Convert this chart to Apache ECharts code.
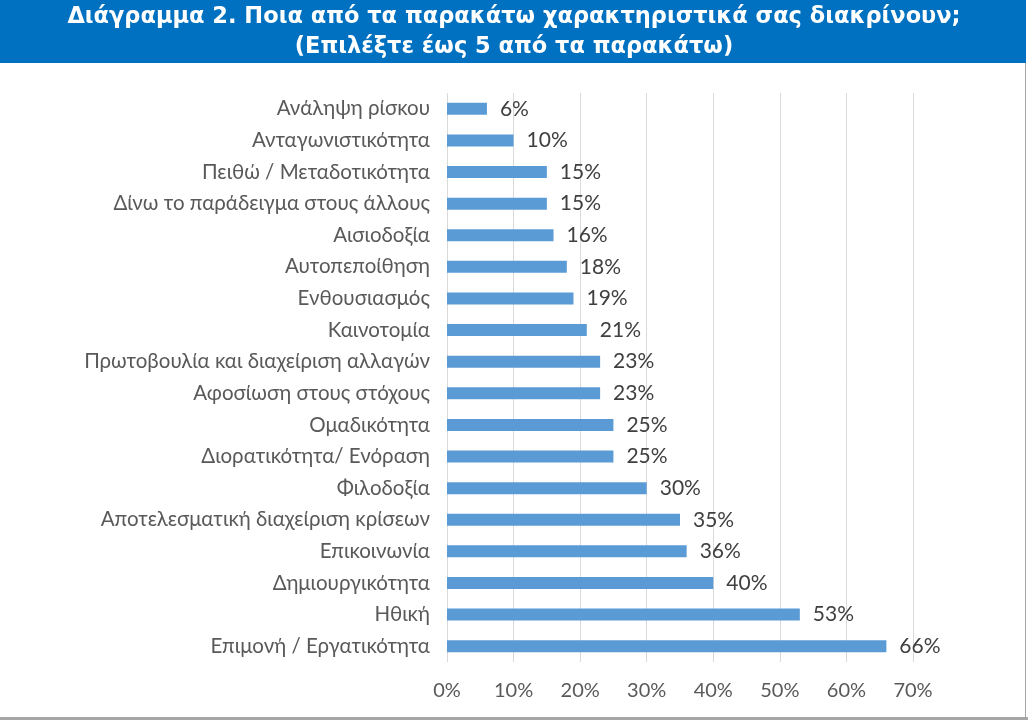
<!DOCTYPE html>
<html lang="el">
<head>
    <meta charset="UTF-8">
    <title>Διάγραμμα 2</title>
    <script src="https://cdn.jsdelivr.net/npm/echarts@6/dist/echarts.min.js"></script>
    <style>
        html, body { margin: 0; padding: 0; background: #fff; }
        #main { width: 1028px; height: 720px; }
    </style>
</head>
<body>
    <div id="main"></div>
    <script type="text/javascript">
        // κατηγορίες από πάνω προς τα κάτω
        var categories = [
            'Ανάληψη ρίσκου',
            'Ανταγωνιστικότητα',
            'Πειθώ / Μεταδοτικότητα',
            'Δίνω το παράδειγμα στους άλλους',
            'Αισιοδοξία',
            'Αυτοπεποίθηση',
            'Ενθουσιασμός',
            'Καινοτομία',
            'Πρωτοβουλία και διαχείριση αλλαγών',
            'Αφοσίωση στους στόχους',
            'Ομαδικότητα',
            'Διορατικότητα/ Ενόραση',
            'Φιλοδοξία',
            'Αποτελεσματική διαχείριση κρίσεων',
            'Επικοινωνία',
            'Δημιουργικότητα',
            'Ηθική',
            'Επιμονή / Εργατικότητα'
        ];
        var values = [6, 10, 15, 15, 16, 18, 19, 21, 23, 23, 25, 25, 30, 35, 36, 40, 53, 66];
        var xTicks = [0, 10, 20, 30, 40, 50, 60, 70];
        var titleLines = [
            'Διάγραμμα 2. Ποια από τα παρακάτω χαρακτηριστικά σας διακρίνουν;',
            '(Επιλέξτε έως 5 από τα παρακάτω)'
        ];

        var myChart = echarts.init(document.getElementById('main'));
        var labelFont = 'Lato, "Open Sans", sans-serif';

        var option = {
            animation: false,
            backgroundColor: '#ffffff',
            title: {
                text: titleLines.join('\n'),
                left: 'center',
                top: 2,
                padding: 0,
                textStyle: {
                    color: '#ffffff',
                    fontFamily: '"DejaVu Sans", sans-serif',
                    fontWeight: 'bold',
                    fontSize: 22.5,
                    lineHeight: 30
                }
            },
            graphic: [
                {
                    type: 'rect', z: -1,
                    shape: { x: 0, y: 0, width: 1026, height: 63 },
                    style: { fill: '#0070C0' }
                },
                {
                    type: 'rect', z: -1,
                    shape: { x: 1025, y: 63, width: 1, height: 657 },
                    style: { fill: '#a6a6a6' }
                },
                {
                    type: 'rect', z: -1,
                    shape: { x: 0, y: 717, width: 1028, height: 3 },
                    style: { fill: '#a6a6a6' }
                }
            ],
            grid: {
                left: 447,
                right: 115,
                top: 93,
                bottom: 58
            },
            xAxis: {
                type: 'value',
                min: 0,
                max: 70,
                interval: 10,
                axisLine: { show: false },
                axisTick: { show: false },
                splitLine: { lineStyle: { color: '#d9d9d9' } },
                axisLabel: {
                    margin: 19,
                    color: '#595959',
                    fontFamily: labelFont,
                    fontSize: 20,
                    formatter: function (v) { return xTicks.indexOf(v) >= 0 ? v + '%' : ''; }
                }
            },
            yAxis: {
                type: 'category',
                inverse: true,
                data: categories,
                axisLine: { show: false },
                axisTick: { show: false },
                axisLabel: {
                    margin: 17,
                    color: '#595959',
                    fontFamily: labelFont,
                    fontSize: 20.5
                }
            },
            series: [{
                type: 'bar',
                data: values,
                barWidth: 12,
                itemStyle: { color: '#5B9BD5' },
                label: {
                    show: true,
                    position: 'right',
                    distance: 13,
                    color: '#404040',
                    fontFamily: labelFont,
                    fontSize: 21,
                    formatter: '{c}%'
                }
            }]
        };

        option && myChart.setOption(option);
    </script>
</body>
</html>
